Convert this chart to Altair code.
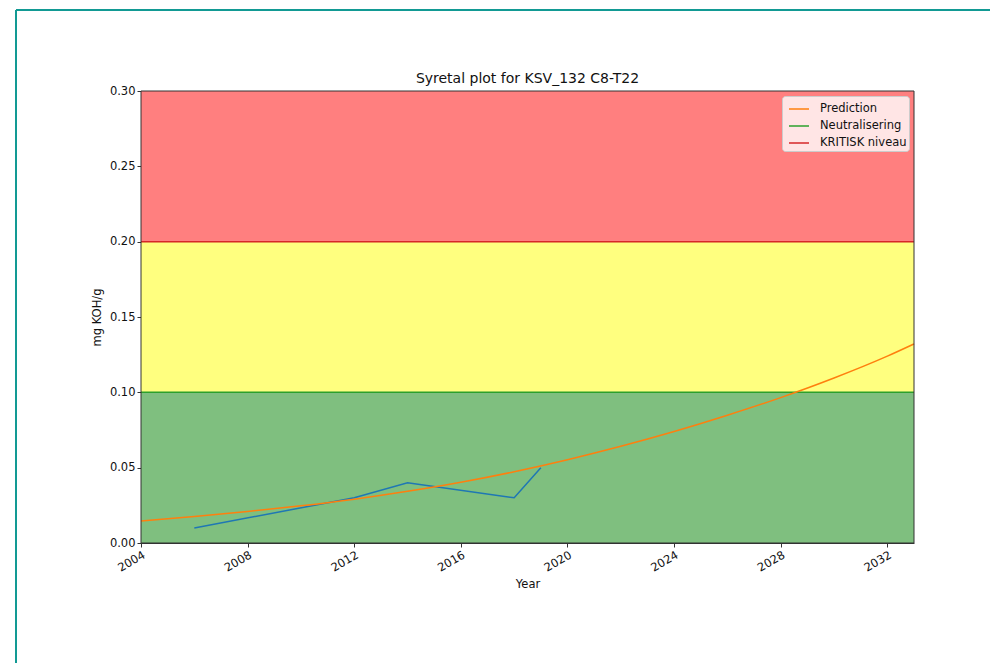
import altair as alt
import pandas as pd

# ---- data ----
title_text = "Syretal plot for KSV_132 C8-T22"
x_title = "Year"
y_title = "mg KOH/g"

meas_years = [2006, 2012, 2014, 2018, 2019]
meas_values = [0.010, 0.030, 0.040, 0.030, 0.050]

pred_years = [2004, 2006, 2008, 2010, 2012, 2014, 2016, 2018, 2020, 2022,
              2024, 2026, 2028, 2030, 2032, 2033]
pred_values = [0.0146, 0.0176, 0.0209, 0.0247, 0.0291, 0.0343, 0.0403, 0.0473,
               0.0553, 0.0642, 0.0740, 0.0848, 0.0965, 0.1095, 0.1240, 0.1321]

x_start, x_end = 2004, 2033
band_low = [0.0, 0.1, 0.2]
band_high = [0.1, 0.2, 0.3]
band_colors = ["#7fbf7f", "#ffff7f", "#ff7f7f"]

threshold_values = [0.1, 0.2]
threshold_names = ["Neutralisering", "KRITISK niveau"]
pred_name = "Prediction"

legend_names = ["Prediction", "Neutralisering", "KRITISK niveau"]
legend_colors = ["#ff7f0e", "#2ca02c", "#d62728"]
meas_color = "#1f77b4"

x_ticks = [2004, 2008, 2012, 2016, 2020, 2024, 2028, 2032]
y_ticks = [0.0, 0.05, 0.10, 0.15, 0.20, 0.25, 0.30]

FONT = "DejaVu Sans"
W, H = 773, 452

# ---- tables ----
bands_df = pd.DataFrame({"x": [x_start] * 3, "x2": [x_end] * 3,
                         "y": band_low, "y2": band_high, "c": band_colors})
thr_df = pd.DataFrame({"x": [x_start] * 2, "x2": [x_end] * 2,
                       "y": threshold_values, "name": threshold_names})
pred_df = pd.DataFrame({"year": pred_years, "value": pred_values,
                        "name": [pred_name] * len(pred_years)})
meas_df = pd.DataFrame({"year": meas_years, "value": meas_values})
frame_df = pd.DataFrame({"x": [x_start], "x2": [x_end], "y": [0.0], "y2": [0.3]})
title_df = pd.DataFrame({"t": [title_text]})

xscale = alt.Scale(domain=[x_start, x_end], nice=False, zero=False)
yscale = alt.Scale(domain=[0, 0.3], nice=False, zero=False)

x_axis = alt.Axis(values=x_ticks, format="d", title=x_title, labelAngle=-30,
                  labelAlign="right", labelBaseline="top", labelPadding=2,
                  titlePadding=5)
y_axis = alt.Axis(values=y_ticks, format=".2f", title=y_title, titlePadding=7)

color_enc = alt.Color("name:N",
                      scale=alt.Scale(domain=legend_names, range=legend_colors),
                      legend=alt.Legend(title=None))

bands = alt.Chart(bands_df).mark_rect().encode(
    x=alt.X("x:Q", scale=xscale, axis=x_axis),
    x2="x2:Q",
    y=alt.Y("y:Q", scale=yscale, axis=y_axis),
    y2="y2:Q",
    fill=alt.Fill("c:N", scale=None),
)

thr = alt.Chart(thr_df).mark_rule(strokeWidth=1.5).encode(
    x=alt.X("x:Q", scale=xscale),
    x2="x2:Q",
    y=alt.Y("y:Q", scale=yscale),
    color=color_enc,
)

meas = alt.Chart(meas_df).mark_line(strokeWidth=1.5, color=meas_color).encode(
    x=alt.X("year:Q", scale=xscale),
    y=alt.Y("value:Q", scale=yscale),
)

pred = alt.Chart(pred_df).mark_line(strokeWidth=1.5, interpolate="monotone").encode(
    x=alt.X("year:Q", scale=xscale),
    y=alt.Y("value:Q", scale=yscale),
    color=color_enc,
)

border = alt.Chart(frame_df).mark_rect(filled=False, stroke="#333333",
                                       strokeWidth=1).encode(
    x=alt.X("x:Q", scale=xscale),
    x2="x2:Q",
    y=alt.Y("y:Q", scale=yscale),
    y2="y2:Q",
)

# chart title as a text mark centred over the plot
title_mark = alt.Chart(title_df).mark_text(
    font=FONT, fontSize=14, color="#111111", align="center", baseline="alphabetic"
).encode(x=alt.value(W / 2), y=alt.value(-8), text="t:N")

# decorative teal page frame from the screenshot
deco_df = pd.DataFrame({"k": [0]})
frame_top = alt.Chart(deco_df).mark_rule(color="#129a94", strokeWidth=2).encode(
    x=alt.value(-125), x2=alt.value(849), y=alt.value(-81))
frame_left = alt.Chart(deco_df).mark_rule(color="#129a94", strokeWidth=2).encode(
    x=alt.value(-125), y=alt.value(-81), y2=alt.value(572))

chart = alt.layer(bands, thr, meas, pred, border, title_mark,
                  frame_top, frame_left).properties(
    width=W,
    height=H,
    padding={"left": 133, "top": 83, "right": 76, "bottom": 120},
    autosize=alt.AutoSizeParams(type="none"),
).configure_view(
    stroke=None
).configure_axis(
    grid=False,
    labelFont=FONT,
    labelFontSize=11.5,
    labelColor="#111111",
    titleFont=FONT,
    titleFontSize=11.5,
    titleFontWeight="normal",
    titleColor="#111111",
    tickColor="#333333",
    tickSize=4,
    domainColor="#333333",
).configure_legend(
    orient="top-right",
    offset=5,
    fillColor="rgba(255,255,255,0.8)",
    strokeColor="#cccccc",
    cornerRadius=3,
    padding=2,
    symbolType="stroke",
    symbolSize=400,
    symbolStrokeWidth=1.5,
    symbolOffset=4,
    labelFont=FONT,
    labelFontSize=11.5,
    labelColor="#111111",
    labelOffset=10,
    rowPadding=0,
)

chart.save("out.html", embed_options={"renderer": "svg", "actions": False})
